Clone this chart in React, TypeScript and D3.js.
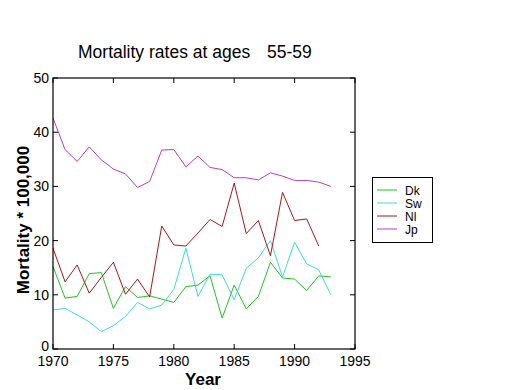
import React from 'react'
import * as d3 from 'd3'

const years = d3.range(1970, 1994)
const dk = [15.2, 9.4, 9.7, 13.9, 14.1, 7.5, 11.5, 9.5, 9.8, 9.2, 8.6, 11.5, 11.8, 13.5, 5.7, 11.8, 7.4, 9.7, 16.0, 13.1, 12.9, 10.8, 13.5, 13.3]
const sw = [7.2, 7.5, 6.3, 5.0, 3.2, 4.3, 6.0, 8.6, 7.4, 8.1, 11.0, 18.6, 9.7, 13.8, 13.7, 9.1, 14.9, 16.8, 20.0, 13.3, 19.7, 15.7, 14.6, 10.0]
const nl = [18.6, 12.4, 15.5, 10.3, 13.2, 16.0, 10.1, 12.9, 9.6, 22.7, 19.2, 19.0, 21.4, 23.9, 22.6, 30.6, 21.3, 23.7, 17.2, 28.9, 23.7, 24.0, 19.0]
const jp = [42.6, 36.8, 34.6, 37.3, 34.9, 33.2, 32.3, 29.8, 30.9, 36.7, 36.8, 33.6, 35.6, 33.5, 33.1, 31.6, 31.6, 31.2, 32.5, 31.9, 31.1, 31.1, 30.8, 30.0]

const seriesNames = ['Dk', 'Sw', 'Nl', 'Jp']
const seriesValues = [dk, sw, nl, jp]
const colors = ['#22c322', '#3cdcdc', '#a81818', '#c03cc0']

const xTicks = [1970, 1975, 1980, 1985, 1990, 1995]
const yTicks = [0, 10, 20, 30, 40, 50]

const W = 520
const H = 390
const margin = { left: 53, right: 355, top: 78, bottom: 349 }

const App = () => {
  const x = d3.scaleLinear().domain([1970, 1995]).range([margin.left, margin.right])
  const y = d3.scaleLinear().domain([0, 50]).range([margin.bottom, margin.top])

  const line = d3.line<number>()
    .x((d, i) => x(years[i]))
    .y(d => y(d))

  const font = 'Arial, "Liberation Sans", sans-serif'
  const tl = 5

  return (
    <svg width={W} height={H} style={{ position: 'absolute', left: 0, top: 0, background: '#fff' }} fontFamily={font}>
      <rect width={W} height={H} fill="#fff" />
      <text x={78} y={58} fontSize={17.5}>Mortality rates at ages</text>
      <text x={267} y={58} fontSize={17.5}>55-59</text>

      {seriesValues.map((vals, i) => (
        <path key={seriesNames[i]} d={line(vals) || ''} fill="none" stroke={colors[i]} strokeWidth={1} />
      ))}

      <rect x={margin.left} y={margin.top} width={margin.right - margin.left} height={margin.bottom - margin.top}
        fill="none" stroke="#000" strokeWidth={1.2} />

      {xTicks.map(t => (
        <g key={'x' + t}>
          <line x1={x(t)} x2={x(t)} y1={margin.bottom} y2={margin.bottom - tl} stroke="#000" />
          <line x1={x(t)} x2={x(t)} y1={margin.top} y2={margin.top + tl} stroke="#000" />
          <text x={x(t)} y={margin.bottom + 17} fontSize={14} textAnchor="middle">{t}</text>
        </g>
      ))}
      {yTicks.map(t => (
        <g key={'y' + t}>
          <line x1={margin.left} x2={margin.left + tl} y1={y(t)} y2={y(t)} stroke="#000" />
          <line x1={margin.right} x2={margin.right - tl} y1={y(t)} y2={y(t)} stroke="#000" />
          <text x={margin.left - 4} y={y(t) + (t === 0 ? 2 : 5)} fontSize={14} textAnchor="end">{t}</text>
        </g>
      ))}

      <text x={203} y={385} fontSize={17} fontWeight="bold" textAnchor="middle">Year</text>
      <text transform={`translate(29,220) rotate(-90)`} fontSize={17} fontWeight="bold" textAnchor="middle">
        Mortality * 100,000
      </text>

      <rect x={372.5} y={177.5} width={60} height={65} fill="#fff" stroke="#000" strokeWidth={1} />
      {seriesNames.map((n, i) => (
        <g key={'l' + n}>
          <line x1={377} x2={397} y1={190 + i * 13} y2={190 + i * 13} stroke={colors[i]} />
          <text x={405} y={194.5 + i * 13} fontSize={12}>{n}</text>
        </g>
      ))}
    </svg>
  )
}

export default App
